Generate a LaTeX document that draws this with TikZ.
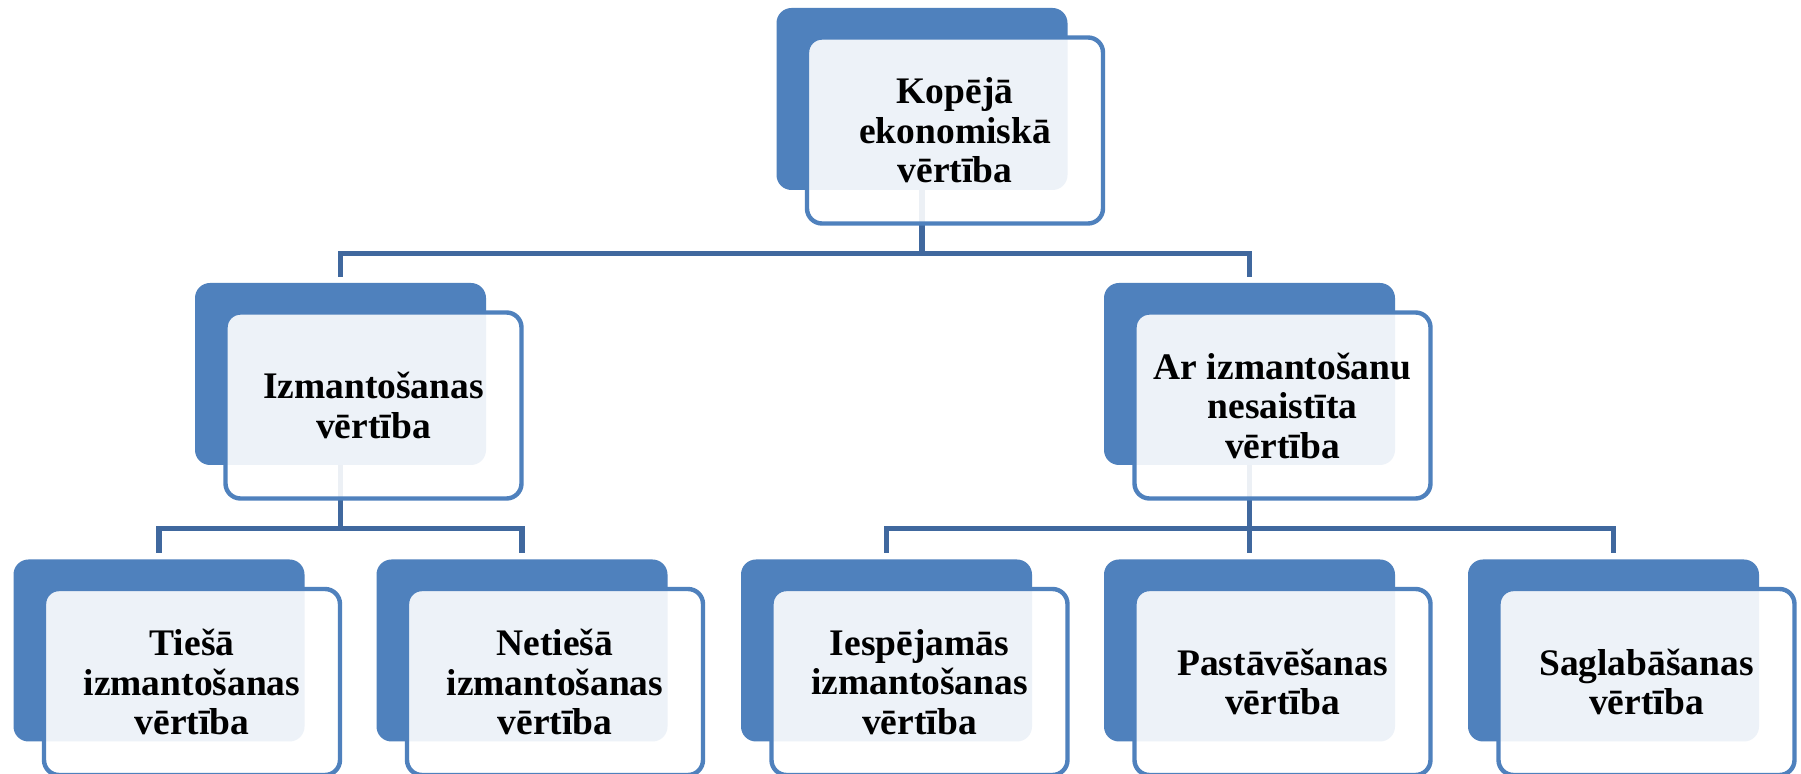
\documentclass[tikz,border=0pt]{standalone}
\usepackage{fontspec}
\setmainfont{Liberation Serif}
\usetikzlibrary{backgrounds}

\definecolor{boxblue}{RGB}{79,129,189}
\definecolor{linkblue}{RGB}{64,104,158}

\tikzset{
  backbox/.style={rectangle, rounded corners=7.5pt, fill=boxblue, draw=none,
    minimum width=145.5pt, minimum height=91pt, inner sep=0pt},
  textbox/.style={rectangle, rounded corners=7.5pt, draw=boxblue, line width=2.2pt,
    fill=white, fill opacity=0.9, text opacity=1, align=center,
    minimum width=148pt, minimum height=93pt, inner sep=0pt,
    font=\bfseries\fontsize{18.75}{19.75}\selectfont},
  link/.style={draw=linkblue, line width=2.6pt, shorten >=3pt}
}

\begin{document}
\begin{tikzpicture}[x=0.5pt, y=-0.5pt]
\useasboundingbox (0,0) rectangle (1801,774);
\clip (0,0) rectangle (1801,774);

% top level
\node[backbox] (topb) at (922,99) {};
\node[textbox] (top) at (955,130.5) {Kopējā\\ekonomiskā\\vērtība};

% second level
\node[backbox] (useb) at (340.5,374) {};
\node[textbox] (use) at (373.5,405.5) {Izmantošanas\\vērtība};
\node[backbox] (nonuseb) at (1249.5,374) {};
\node[textbox] (nonuse) at (1282.5,405.5) {Ar izmantošanu\\nesaistīta\\vērtība};

% third level
\node[backbox] (directb) at (159,650.5) {};
\node[textbox] (direct) at (192,682) {Tiešā\\izmantošanas\\vērtība};
\node[backbox] (indirectb) at (522,650.5) {};
\node[textbox] (indirect) at (555,682) {Netiešā\\izmantošanas\\vērtība};
\node[backbox] (optionb) at (886.5,650.5) {};
\node[textbox] (option) at (919.5,682) {Iespējamās\\izmantošanas\\vērtība};
\node[backbox] (existb) at (1249.5,650.5) {};
\node[textbox] (exist) at (1282.5,682) {Pastāvēšanas\\vērtība};
\node[backbox] (bequestb) at (1613.5,650.5) {};
\node[textbox] (bequest) at (1646.5,682) {Saglabāšanas\\vērtība};

% connectors
\begin{scope}[on background layer]
\fill[white] (0,0) rectangle (1801,774);
\draw[link, line width=2.8pt] (topb.south) -- ++(0,63) -| (useb.north);
\draw[link, line width=2.8pt] (topb.south) -- ++(0,63) -| (nonuseb.north);
\draw[link] (useb.south) -- ++(0,63) -| (directb.north);
\draw[link] (useb.south) -- ++(0,63) -| (indirectb.north);
\draw[link] (nonuseb.south) -- ++(0,63) -| (optionb.north);
\draw[link] (nonuseb.south) -- ++(0,63) -| (existb.north);
\draw[link] (nonuseb.south) -- ++(0,63) -| (bequestb.north);
\end{scope}
\end{tikzpicture}
\end{document}
